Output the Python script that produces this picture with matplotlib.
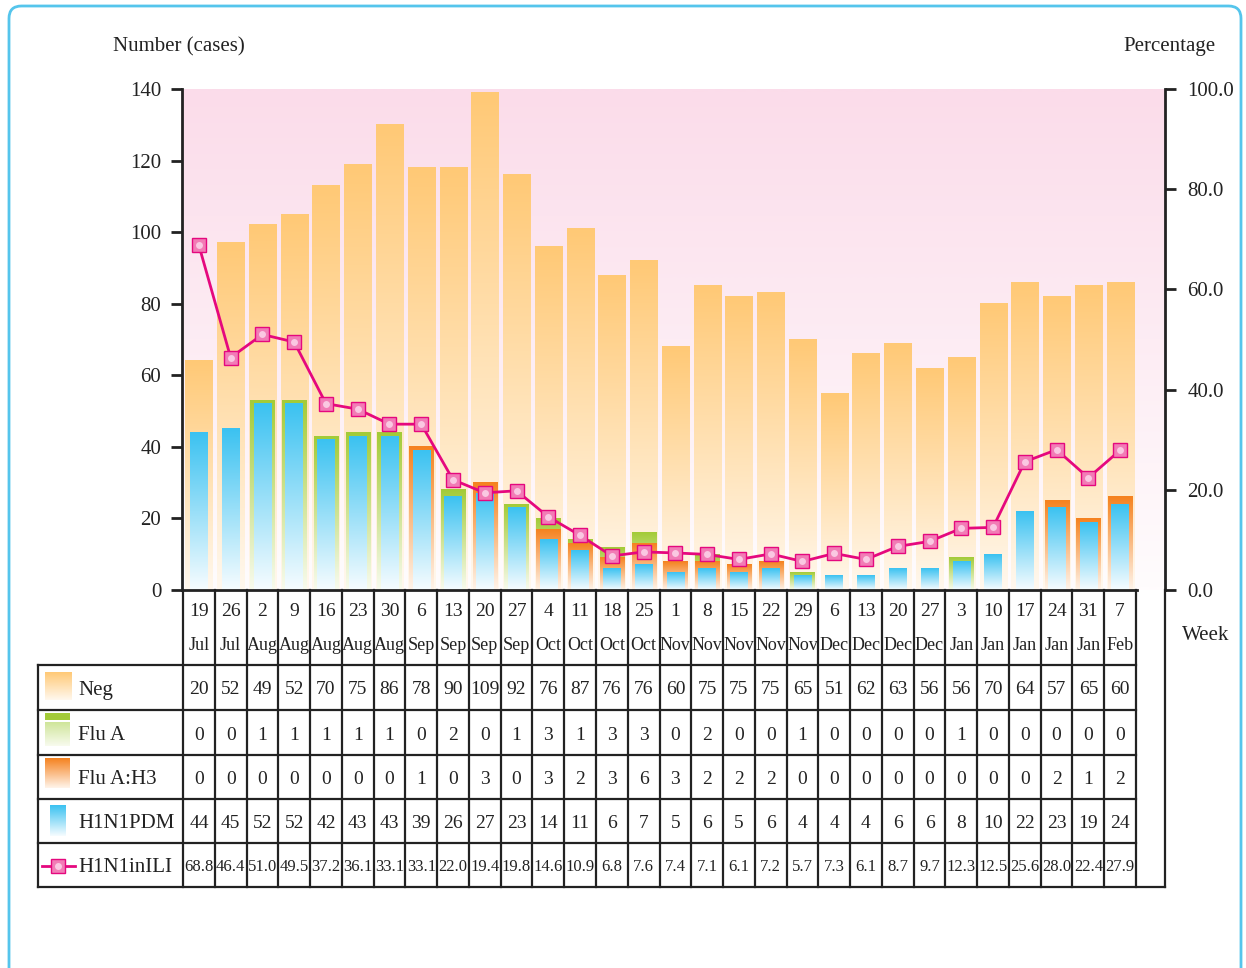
import matplotlib
matplotlib.use("Agg")
import numpy as np
import matplotlib.pyplot as plt
from matplotlib.colors import to_rgb
from matplotlib.patches import FancyBboxPatch

plt.rcParams['font.family'] = ['Liberation Serif', 'DejaVu Serif']

# ---------------- data ----------------
week_days = ["19", "26", "2", "9", "16", "23", "30", "6", "13", "20", "27", "4", "11", "18", "25",
             "1", "8", "15", "22", "29", "6", "13", "20", "27", "3", "10", "17", "24", "31", "7"]
week_months = ["Jul", "Jul", "Aug", "Aug", "Aug", "Aug", "Aug", "Sep", "Sep", "Sep", "Sep", "Oct", "Oct", "Oct", "Oct",
               "Nov", "Nov", "Nov", "Nov", "Nov", "Dec", "Dec", "Dec", "Dec", "Jan", "Jan", "Jan", "Jan", "Jan", "Feb"]
neg = [20, 52, 49, 52, 70, 75, 86, 78, 90, 109, 92, 76, 87, 76, 76,
       60, 75, 75, 75, 65, 51, 62, 63, 56, 56, 70, 64, 57, 65, 60]
flu_a = [0, 0, 1, 1, 1, 1, 1, 0, 2, 0, 1, 3, 1, 3, 3,
         0, 2, 0, 0, 1, 0, 0, 0, 0, 1, 0, 0, 0, 0, 0]
flu_h3 = [0, 0, 0, 0, 0, 0, 0, 1, 0, 3, 0, 3, 2, 3, 6,
          3, 2, 2, 2, 0, 0, 0, 0, 0, 0, 0, 0, 2, 1, 2]
h1n1pdm = [44, 45, 52, 52, 42, 43, 43, 39, 26, 27, 23, 14, 11, 6, 7,
           5, 6, 5, 6, 4, 4, 4, 6, 6, 8, 10, 22, 23, 19, 24]
h1n1_ili = [68.8, 46.4, 51.0, 49.5, 37.2, 36.1, 33.1, 33.1, 22.0, 19.4, 19.8, 14.6, 10.9, 6.8, 7.6,
            7.4, 7.1, 6.1, 7.2, 5.7, 7.3, 6.1, 8.7, 9.7, 12.3, 12.5, 25.6, 28.0, 22.4, 27.9]
row_labels = ["Neg", "Flu A", "Flu A:H3", "H1N1PDM", "H1N1inILI"]
left_ticks = [0, 20, 40, 60, 80, 100, 120, 140]
right_ticks = [0, 20, 40, 60, 80, 100]

# ---------------- styling ----------------
W, H = 1246, 968
C_NEG = ("#FFC976", "#FFF8EE")
C_A = ("#A3CB38", "#F8FBEE")
C_H3 = ("#F5821F", "#FFF4EA")
C_PDM = ("#3BC2F1", "#F6FCFF")
LINE_C = "#E5087E"
TXT = "#222222"

n = len(neg)
idx = np.arange(n)
COLW = (1136 - 183) / n          # column width in pixels


def px2x(px):
    return -0.5 + (px - 183) / COLW


def grad(c_top, c_bot, k=96):
    t = np.linspace(0, 1, k)[:, None]
    a = np.array(to_rgb(c_top))
    b = np.array(to_rgb(c_bot))
    return (a * (1 - t) + b * t)[:, None, :]


def gbar(ax, x, w, y0, y1, cols, z):
    ax.imshow(grad(*cols), extent=(x - w / 2, x + w / 2, y0, y1), origin='upper',
              aspect='auto', interpolation='bilinear', zorder=z)


fig = plt.figure(figsize=(W / 100, H / 100), dpi=100)

# outer rounded frame
frame = FancyBboxPatch((9 / W, -0.05), 1232 / W, 1.05 - 6 / H, boxstyle="round,pad=0,rounding_size=0.010",
                       mutation_aspect=W / H, transform=fig.transFigure, facecolor='white',
                       edgecolor='#55C5EC', linewidth=2, zorder=-10)
fig.patches.append(frame)

# ---------------- main axes ----------------
ax = fig.add_axes([182 / W, (H - 590) / H, (1165 - 182) / W, (590 - 89) / H])
ax.patch.set_visible(False)
xl = (px2x(182), px2x(1165))
# background gradient
ax.imshow(grad("#FBDCEA", "#FFFCFD"), extent=(xl[0], xl[1], 0, 140), origin='upper',
          aspect='auto', interpolation='bilinear', zorder=0)

totals = [a + b + c + d for a, b, c, d in zip(neg, flu_a, flu_h3, h1n1pdm)]
for i in idx:
    gbar(ax, i, 0.85, 0, totals[i], C_NEG, 1)
    pos_a = h1n1pdm[i] + flu_h3[i] + flu_a[i]
    pos_h3 = h1n1pdm[i] + flu_h3[i]
    if flu_a[i] > 0:
        gbar(ax, i, 0.76, 0, pos_a, C_A, 2)
    if flu_h3[i] > 0:
        gbar(ax, i, 0.76, 0, pos_h3, C_H3, 3)
    if h1n1pdm[i] > 0:
        gbar(ax, i, 0.55, 0, h1n1pdm[i], C_PDM, 4)

ax.set_xlim(*xl)
ax.set_ylim(0, 140)
ax.set_yticks(left_ticks)
ax.set_xticks([])
for s in ['top', 'right', 'bottom']:
    ax.spines[s].set_visible(False)
ax.spines['left'].set_linewidth(2)
ax.spines['left'].set_color(TXT)
ax.tick_params(axis='y', direction='out', length=8, width=2, pad=7, labelsize=15,
               colors=TXT)
ax.plot([xl[0], px2x(1137)], [0, 0], color=TXT, lw=2, clip_on=False, zorder=6)

# right axis with the percentage line
ax2 = ax.twinx()
ax2.set_ylim(0, 100)
ax2.set_yticks(right_ticks)
ax2.set_yticklabels([f"{v:.1f}" for v in right_ticks])
for s in ['top', 'left', 'bottom']:
    ax2.spines[s].set_visible(False)
ax2.spines['right'].set_linewidth(2)
ax2.spines['right'].set_color(TXT)
ax2.tick_params(axis='y', direction='out', length=8, width=2, pad=8, labelsize=15,
                colors=TXT)
ax2.plot(idx, h1n1_ili, color=LINE_C, lw=2, zorder=5)
ax2.plot(idx, h1n1_ili, ls='none', marker='s', ms=10, mfc='#F27CB6', mec=LINE_C, mew=1, zorder=6)
ax2.plot(idx, h1n1_ili, ls='none', marker='o', ms=5, mfc='#FAC8E2', mec='none', zorder=7)
ax2.set_xlim(*xl)

fig.text(113 / W, 1 - 47 / H, "Number (cases)", ha='left', va='center', fontsize=15, color=TXT)
fig.text(1216 / W, 1 - 47 / H, "Percentage", ha='right', va='center', fontsize=15, color=TXT)
fig.text(1182 / W, 1 - 636 / H, "Week", ha='left', va='center', fontsize=15, color=TXT)

# ---------------- table ----------------
tab = fig.add_axes([38 / W, (H - 887) / H, (1165 - 38) / W, (887 - 590) / H])
tab.set_xlim(px2x(38), px2x(1165))
tab.set_ylim(887, 590)
tab.axis('off')

LW = 1.6
for k in range(n + 1):
    tab.plot([k - 0.5, k - 0.5], [590, 887], color=TXT, lw=LW, clip_on=False)
tab.plot([px2x(1165)] * 2, [590, 887], color=TXT, lw=LW, clip_on=False)
tab.plot([px2x(38)] * 2, [665, 887], color=TXT, lw=LW, clip_on=False)
row_edges = [665, 710, 755, 799, 843]
for y in row_edges:
    tab.plot([px2x(38), n - 0.5], [y, y], color=TXT, lw=LW, clip_on=False)
tab.plot([px2x(38), px2x(1165)], [887, 887], color=TXT, lw=LW, clip_on=False)

for i in idx:
    tab.text(i, 612, week_days[i], ha='center', va='center', fontsize=14, color=TXT)
    tab.text(i, 645, week_months[i], ha='center', va='center', fontsize=13, color=TXT)

row_y = [690, 735, 779, 823, 867]
series = [neg, flu_a, flu_h3, h1n1pdm]
for r, vals in enumerate(series):
    for i in idx:
        tab.text(i, row_y[r], str(vals[i]), ha='center', va='center', fontsize=14, color=TXT)
for i in idx:
    tab.text(i, row_y[4], f"{h1n1_ili[i]:.1f}", ha='center', va='center', fontsize=12, color=TXT)

for r, lab in enumerate(row_labels):
    tab.text(px2x(78), row_y[r], lab, ha='left', va='center', fontsize=15, color=TXT)

# legend swatches
tab.imshow(grad(*C_NEG), extent=(px2x(45), px2x(72), 700, 672), origin='upper', aspect='auto',
           interpolation='bilinear')
tab.imshow(grad("#CFE59A", "#F8FBEE"), extent=(px2x(45), px2x(70), 746, 722), origin='upper',
           aspect='auto', interpolation='bilinear')
tab.imshow(grad("#A3CB38", "#A3CB38", 4), extent=(px2x(45), px2x(70), 720, 713), origin='upper',
           aspect='auto', interpolation='nearest')
tab.imshow(grad(*C_H3), extent=(px2x(45), px2x(70), 788, 758), origin='upper', aspect='auto',
           interpolation='bilinear')
tab.imshow(grad(*C_PDM), extent=(px2x(50), px2x(66), 836, 805), origin='upper', aspect='auto',
           interpolation='bilinear')
tab.plot([px2x(42), px2x(75)], [866, 866], color=LINE_C, lw=2)
tab.plot([px2x(58)], [866], ls='none', marker='s', ms=10, mfc='#F27CB6', mec=LINE_C, mew=1)
tab.plot([px2x(58)], [866], ls='none', marker='o', ms=5, mfc='#FAC8E2', mec='none')
tab.set_xlim(px2x(38), px2x(1165))
tab.set_ylim(887, 590)

fig.savefig("out.png", dpi=100)
